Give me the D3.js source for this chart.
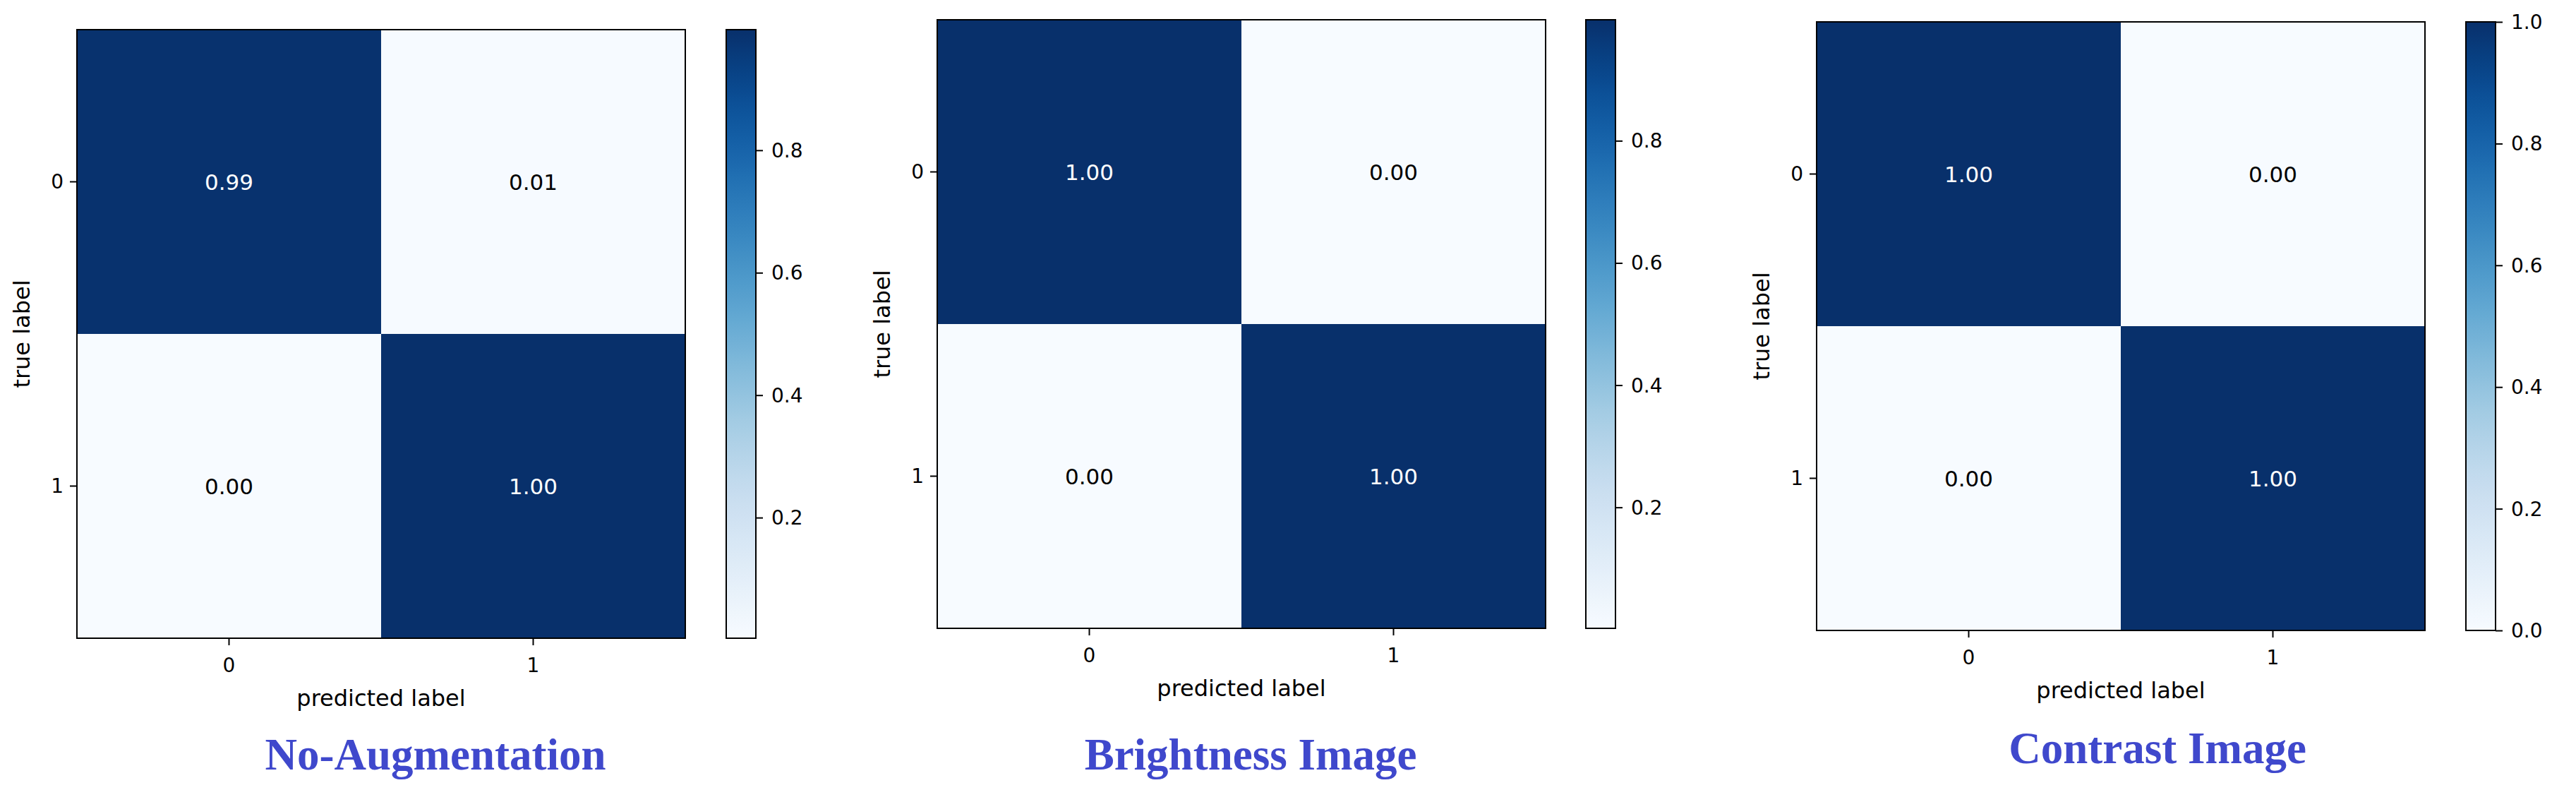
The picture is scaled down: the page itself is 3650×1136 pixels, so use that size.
<!DOCTYPE html>
<html>
<head>
<meta charset="utf-8">
<script src="https://cdn.jsdelivr.net/npm/d3@7"></script>
<style>
  html, body { margin: 0; padding: 0; background: #ffffff; }
  svg { display: block; }
</style>
</head>
<body>
<svg id="chart" width="3650" height="1136"></svg>
<script>
// ---------------- data ----------------
const categories = ["0", "1"];
const panelTitles = ["No-Augmentation", "Brightness Image", "Contrast Image"];
const noAugmentationMatrix = [[0.99, 0.01], [0.003, 0.997]];
const brightnessMatrix = [[0.998, 0.002], [0.002, 0.998]];
const contrastMatrix = [[1.0, 0.0], [0.0, 1.0]];
const noAugmentationCbarTicks = [0.2, 0.4, 0.6, 0.8];
const brightnessCbarTicks = [0.2, 0.4, 0.6, 0.8];
const contrastCbarTicks = [0.0, 0.2, 0.4, 0.6, 0.8, 1.0];
const xAxisLabel = "predicted label";
const yAxisLabel = "true label";

// ---------------- layout ----------------
const layouts = [
  { hx: 109,  hy: 42, size: 862, cbx: 1029, cbw: 42, tx: 617,  ty: 1090 },
  { hx: 1328, hy: 28, size: 862, cbx: 2247, cbw: 42, tx: 1772, ty: 1090 },
  { hx: 2574, hy: 31, size: 862, cbx: 3494, cbw: 42, tx: 3057, ty: 1081 }
];
const matrices = [noAugmentationMatrix, brightnessMatrix, contrastMatrix];
const cbarTicks = [noAugmentationCbarTicks, brightnessCbarTicks, contrastCbarTicks];

const FONT = "DejaVu Sans, Liberation Sans, sans-serif";
const FS_TICK = 28;
const FS_CELL = 31;
const FS_LABEL = 32;
const svg = d3.select("#chart");
svg.append("rect").attr("width", 3650).attr("height", 1136).attr("fill", "#ffffff");

const fmt = d3.format(".2f");
const defs = svg.append("defs");

matrices.forEach((matrix, p) => {
  const L = layouts[p];
  const flat = matrix.flat();
  const vmin = d3.min(flat), vmax = d3.max(flat);
  const color = d3.scaleSequential(d3.interpolateBlues).domain([vmin, vmax]);
  const thresh = (vmin + vmax) / 2;

  const g = svg.append("g").attr("transform", `translate(${L.hx},${L.hy})`);
  const x = d3.scaleBand().domain(categories).range([0, L.size]);
  const y = d3.scaleBand().domain(categories).range([0, L.size]);

  const cells = [];
  matrix.forEach((row, i) => row.forEach((v, j) => cells.push({ r: categories[i], c: categories[j], v })));

  g.selectAll("rect.cell").data(cells).join("rect")
    .attr("class", "cell")
    .attr("x", d => x(d.c)).attr("y", d => y(d.r))
    .attr("width", x.bandwidth()).attr("height", y.bandwidth())
    .attr("fill", d => color(d.v));

  g.selectAll("text.val").data(cells).join("text")
    .attr("class", "val")
    .attr("x", d => x(d.c) + x.bandwidth() / 2)
    .attr("y", d => y(d.r) + y.bandwidth() / 2)
    .attr("text-anchor", "middle").attr("dominant-baseline", "central")
    .attr("font-family", FONT).attr("font-size", FS_CELL)
    .attr("fill", d => d.v > thresh ? "#ffffff" : "#000000")
    .text(d => fmt(d.v));

  // frame
  g.append("rect").attr("x", 0).attr("y", 0).attr("width", L.size).attr("height", L.size)
    .attr("fill", "none").attr("stroke", "#000").attr("stroke-width", 2);

  // axes
  const xAxis = g.append("g").attr("transform", `translate(0,${L.size})`)
    .call(d3.axisBottom(x).tickSize(10).tickPadding(9));
  const yAxis = g.append("g").call(d3.axisLeft(y).tickSize(10).tickPadding(9));
  [xAxis, yAxis].forEach(a => {
    a.select(".domain").remove();
    a.selectAll(".tick line").attr("stroke", "#000").attr("stroke-width", 2);
    a.selectAll(".tick text").attr("font-family", FONT).attr("font-size", FS_TICK).attr("fill", "#000");
  });
  xAxis.selectAll(".tick text").attr("dy", null).attr("y", 48);
  yAxis.selectAll(".tick text").attr("dy", null).attr("dominant-baseline", "central");

  g.append("text")
    .attr("x", L.size / 2).attr("y", L.size + 96)
    .attr("text-anchor", "middle").attr("font-family", FONT).attr("font-size", FS_LABEL).attr("fill", "#000")
    .text(xAxisLabel);
  g.append("text")
    .attr("transform", `translate(-78,${L.size / 2}) rotate(-90)`)
    .attr("text-anchor", "middle").attr("dominant-baseline", "central")
    .attr("font-family", FONT).attr("font-size", FS_LABEL).attr("fill", "#000")
    .text(yAxisLabel);

  // colorbar
  const gradId = "cbgrad" + p;
  const grad = defs.append("linearGradient").attr("id", gradId)
    .attr("x1", 0).attr("y1", 1).attr("x2", 0).attr("y2", 0);
  d3.range(0, 1.0001, 0.02).forEach(t => {
    grad.append("stop").attr("offset", t).attr("stop-color", d3.interpolateBlues(t));
  });
  const cb = svg.append("g").attr("transform", `translate(${L.cbx},${L.hy})`);
  const cbScale = d3.scaleLinear().domain([vmin, vmax]).range([L.size, 0]);
  cb.append("rect").attr("width", L.cbw).attr("height", L.size).attr("fill", `url(#${gradId})`);
  cb.append("rect").attr("width", L.cbw).attr("height", L.size)
    .attr("fill", "none").attr("stroke", "#000").attr("stroke-width", 2);
  const cbAxis = cb.append("g").attr("transform", `translate(${L.cbw},0)`)
    .call(d3.axisRight(cbScale).tickValues(cbarTicks[p]).tickFormat(d3.format(".1f")).tickSize(10).tickPadding(12));
  cbAxis.select(".domain").remove();
  cbAxis.selectAll(".tick line").attr("stroke", "#000").attr("stroke-width", 2);
  cbAxis.selectAll(".tick text").attr("font-family", FONT).attr("font-size", FS_TICK).attr("fill", "#000")
    .attr("dy", null).attr("dominant-baseline", "central");

  // title
  svg.append("text")
    .attr("x", L.tx).attr("y", L.ty)
    .attr("text-anchor", "middle")
    .attr("font-family", "Liberation Serif, Times New Roman, serif")
    .attr("font-weight", "bold").attr("font-size", 63)
    .attr("fill", "#3F48CC")
    .text(panelTitles[p]);
});
</script>
</body>
</html>
